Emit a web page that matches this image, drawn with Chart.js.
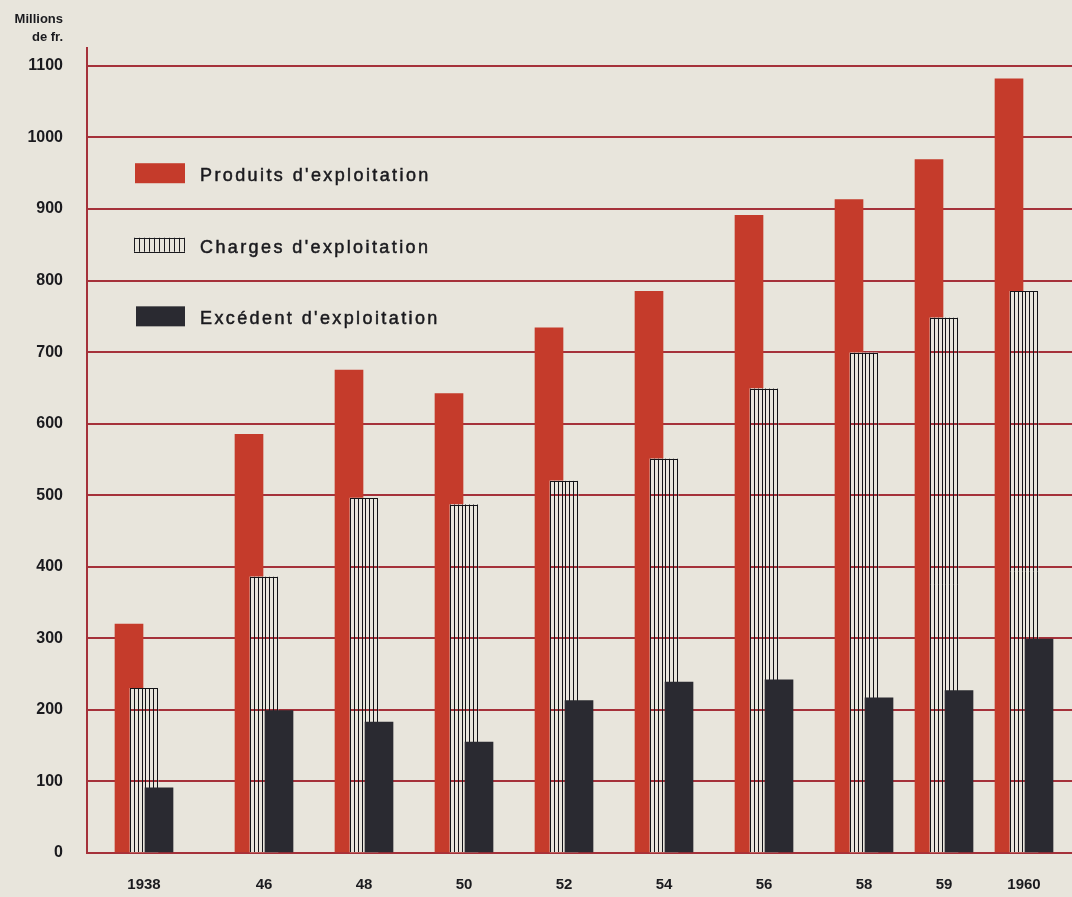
<!DOCTYPE html>
<html>
<head>
<meta charset="utf-8">
<script src="https://cdn.jsdelivr.net/npm/chart.js@4.4.1/dist/chart.umd.min.js"></script>
<style>
  html, body { margin: 0; padding: 0; background: #e8e5dc; }
  canvas { display: block; }
</style>
</head>
<body>
<canvas id="c" width="1072" height="897"></canvas>
<script>
// Years shown under each group of bars
const years = ['1938', '46', '48', '50', '52', '54', '56', '58', '59', '1960'];
// Millions de francs
const produits = [320, 585, 675, 642, 734, 785, 891, 913, 969, 1082];
const charges  = [230, 386, 496, 487, 520, 551, 649, 699, 748, 785];
const excedent = [91, 199, 183, 155, 213, 239, 242, 217, 227, 299];
// Y axis tick values
const yTicks = [0, 100, 200, 300, 400, 500, 600, 700, 800, 900, 1000, 1100];
// Spacing before each group along the x axis (wider after 1938, narrower for single years)
const groupGap = [0, 1.2, 1, 1, 1, 1, 1, 1, 0.8, 0.8];

const RED = '#c53b2b';
const DARK = '#2a2a31';
const PAPER = '#e8e5dc';
const GRID = '#a5313a';
const INK = '#1a1a1e';
const FONT = '"Liberation Sans", Arial, Helvetica, sans-serif';

const groupPos = [];
groupGap.reduce((acc, g) => { const p = acc + g; groupPos.push(p); return p; }, 0);
const SHIFT = 0.15;

const pts = (vals, dx) => vals.map((v, i) => ({ x: groupPos[i] + dx, y: v }));

// Vertical hatching of the "charges" bars; grid lines stay visible through them
const hatch = {
  id: 'hatch',
  afterDatasetDraw(chart, args) {
    if (args.index !== 1) return;
    const ctx = chart.ctx, ys = chart.scales.y;
    ctx.save();
    args.meta.data.forEach(bar => {
      const { x, y, base, width } = bar.getProps(['x', 'y', 'base', 'width'], true);
      const l = x - width / 2, r = x + width / 2;
      ctx.strokeStyle = GRID;
      ctx.lineWidth = 2;
      ys.ticks.forEach(t => {
        const py = Math.round(ys.getPixelForValue(t.value));
        if (py > y + 1 && py < base - 1) {
          ctx.beginPath(); ctx.moveTo(l, py); ctx.lineTo(r, py); ctx.stroke();
        }
      });
      ctx.strokeStyle = '#141418';
      ctx.lineWidth = 1;
      ctx.beginPath();
      const n = 7;
      for (let k = 0; k <= n; k++) {
        const sx = Math.round(l + k * (width - 1) / n) + 0.5;
        ctx.moveTo(sx, y); ctx.lineTo(sx, base);
      }
      const ty = Math.round(y) + 0.5;
      ctx.moveTo(l, ty); ctx.lineTo(r, ty);
      ctx.stroke();
    });
    ctx.restore();
  }
};

// Legend inside the plot and the unit caption above the axis
const annotations = {
  id: 'annotations',
  afterDraw(chart) {
    const ctx = chart.ctx, ys = chart.scales.y;
    const ds = chart.data.datasets;
    ctx.save();
    // unit caption
    ctx.fillStyle = INK;
    ctx.font = 'bold 13px ' + FONT;
    ctx.textAlign = 'right';
    ctx.textBaseline = 'middle';
    ctx.fillText('Millions', 63, 19);
    ctx.fillText('de fr.', 63, 37);

    const rows = [950, 850, 750];
    rows.forEach((v, i) => {
      const cy = ys.getPixelForValue(v);
      if (i === 0) {
        ctx.fillStyle = RED;
        ctx.fillRect(135, cy - 10, 50, 20);
      } else if (i === 2) {
        ctx.fillStyle = DARK;
        ctx.fillRect(136, cy - 10, 49, 20);
      } else {
        ctx.fillStyle = PAPER;
        ctx.fillRect(134, cy - 7, 50, 14);
        ctx.strokeStyle = INK;
        ctx.lineWidth = 1;
        ctx.beginPath();
        for (let k = 0; k <= 10; k++) {
          const sx = Math.round(134 + k * 5) + 0.5;
          ctx.moveTo(sx, cy - 7); ctx.lineTo(sx, cy + 7);
        }
        ctx.moveTo(134, Math.round(cy - 7) + 0.5); ctx.lineTo(185, Math.round(cy - 7) + 0.5);
        ctx.moveTo(134, Math.round(cy + 7) + 0.5); ctx.lineTo(185, Math.round(cy + 7) + 0.5);
        ctx.stroke();
      }
      ctx.fillStyle = INK;
      ctx.strokeStyle = INK;
      ctx.lineWidth = 0.5;
      ctx.font = '18px ' + FONT;
      ctx.textAlign = 'left';
      ctx.textBaseline = 'middle';
      if ('letterSpacing' in ctx) ctx.letterSpacing = '2.4px';
      ctx.fillText(ds[i].label, 200, cy + 3);
      ctx.strokeText(ds[i].label, 200, cy + 3);
      if ('letterSpacing' in ctx) ctx.letterSpacing = '0px';
    });
    ctx.restore();
  }
};

new Chart(document.getElementById('c'), {
  type: 'bar',
  data: {
    datasets: [
      { label: "Produits d'exploitation", data: pts(produits, -SHIFT), backgroundColor: RED, order: 3 },
      { label: "Charges d'exploitation", data: pts(charges, 0), backgroundColor: PAPER, order: 2 },
      { label: "Excédent d'exploitation", data: pts(excedent, SHIFT), backgroundColor: DARK, order: 1 }
    ]
  },
  options: {
    responsive: false,
    maintainAspectRatio: false,
    animation: false,
    devicePixelRatio: 1,
    layout: { padding: { top: 48, right: 0, bottom: 0, left: 0 } },
    datasets: { bar: { grouped: false, barThickness: 28, borderWidth: 0 } },
    plugins: { legend: { display: false }, tooltip: { enabled: false } },
    scales: {
      x: {
        type: 'linear',
        offset: false,
        min: -0.57,
        max: 9.28,
        afterBuildTicks: s => { s.ticks = groupPos.map(v => ({ value: v })); },
        afterFit: s => { s.height = 44; },
        grid: { display: false, drawTicks: false },
        border: { display: true, color: GRID, width: 2 },
        ticks: {
          autoSkip: false, maxRotation: 0, padding: 23,
          color: INK, font: { family: FONT, size: 15, weight: 'bold' },
          callback: (v, i) => years[i]
        }
      },
      y: {
        min: 0,
        max: 1125,
        afterBuildTicks: s => { s.ticks = yTicks.map(v => ({ value: v })); },
        afterFit: s => { s.width = 87; },
        grid: { color: GRID, lineWidth: 2, drawTicks: false },
        border: { display: true, color: GRID, width: 2 },
        ticks: {
          padding: 24, color: INK,
          font: { family: FONT, size: 16, weight: 'bold' },
          callback: v => String(v)
        }
      }
    }
  },
  plugins: [hatch, annotations]
});
</script>
</body>
</html>
